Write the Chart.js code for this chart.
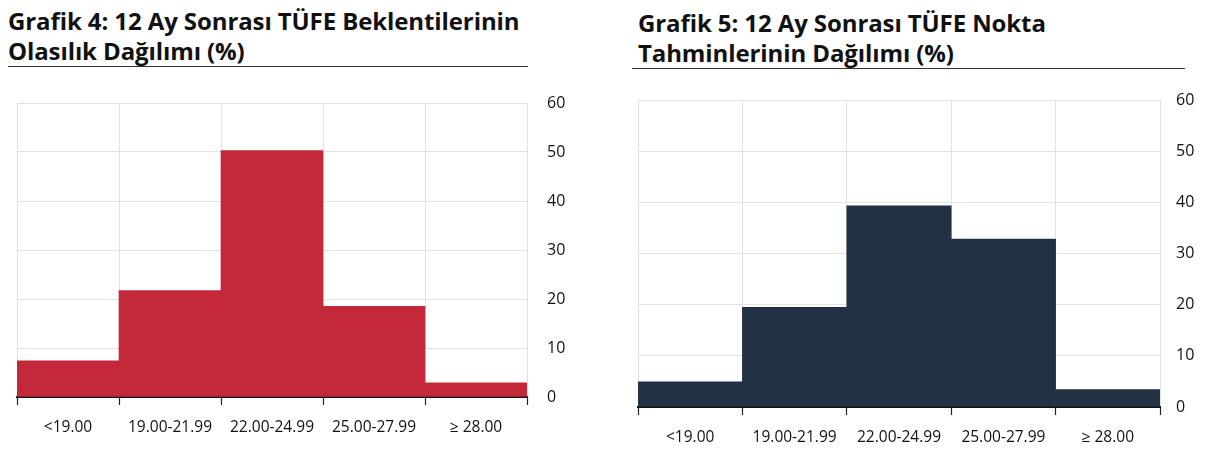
<!DOCTYPE html>
<html>
<head>
<meta charset="utf-8">
<script src="https://cdn.jsdelivr.net/npm/chart.js@4"></script>
<style>
  html, body { margin: 0; padding: 0; background: #fff; }
  body { width: 1212px; height: 458px; position: relative; overflow: hidden; font-family: 'Open Sans', sans-serif; }
  .title { position: absolute; font-weight: 700; font-size: 24px; line-height: 30px; color: #111; border-bottom: 1.5px solid #333; box-sizing: border-box; letter-spacing: -0.1px; }
  .wrap { position: absolute; }
</style>
</head>
<body>
<div class="title" id="t1" style="left:8px; top:6px; width:520px;">Grafik 4: 12 Ay Sonrası TÜFE Beklentilerinin<br>Olasılık Dağılımı (%)</div>
<div class="title" id="t2" style="left:632px; top:8px; width:553px; padding-left:6px;">Grafik 5: 12 Ay Sonrası TÜFE Nokta<br>Tahminlerinin Dağılımı (%)</div>
<div class="wrap" style="left:0px; top:80px; width:600px; height:378px;"><canvas id="c1"></canvas></div>
<div class="wrap" style="left:610px; top:80px; width:602px; height:378px;"><canvas id="c2"></canvas></div>
<script>
const categories = ['<19.00', '19.00-21.99', '22.00-24.99', '25.00-27.99', '≥ 28.00'];
const probabilityValues = [7.4, 21.7, 50.3, 18.5, 2.9];
const pointEstimateValues = [4.9, 19.5, 39.3, 32.8, 3.4];
const yTicks = [0, 10, 20, 30, 40, 50, 60];

function makeChart(id, values, color, lay) {
  const ctx = document.getElementById(id);
  return new Chart(ctx, {
    type: 'bar',
    data: {
      labels: categories,
      datasets: [{
        data: values,
        backgroundColor: color,
        borderWidth: 0,
        categoryPercentage: 1.0,
        barPercentage: 1.0
      }]
    },
    options: {
      responsive: true,
      maintainAspectRatio: false,
      animation: false,
      layout: { padding: { left: lay.left, top: lay.top, right: 0, bottom: 0 } },
      plugins: { legend: { display: false }, tooltip: { enabled: false }, title: { display: false } },
      scales: {
        x: {
          type: 'category',
          offset: true,
          grid: { offset: true, color: '#e2e2e2', lineWidth: 1, tickColor: '#222', tickLength: 8, tickWidth: 1.2 },
          border: { color: '#111', width: 2 },
          ticks: { color: '#111', font: { family: 'Open Sans', size: 15.5 }, padding: 13, maxRotation: 0, autoSkip: false },
          afterFit: s => { s.height = lay.xh; s.paddingLeft = 0; s.paddingRight = 0; }
        },
        y: {
          position: 'right',
          min: yTicks[0],
          max: yTicks[yTicks.length - 1],
          afterBuildTicks: s => { s.ticks = yTicks.map(v => ({ value: v })); },
          grid: { color: '#e2e2e2', lineWidth: 1, drawTicks: false },
          border: { display: false },
          ticks: { color: '#111', font: { family: 'Open Sans', size: 16 }, padding: lay.ypad },
          afterFit: s => { s.width = lay.yw; s.paddingTop = 0; s.paddingBottom = 0; }
        }
      }
    }
  });
}

makeChart('c1', probabilityValues, '#C3293A', { left: 17, top: 23, xh: 61, yw: 73, ypad: 20 });
makeChart('c2', pointEstimateValues, '#233145', { left: 28, top: 20, xh: 51, yw: 52, ypad: 16 });
</script>
</body>
</html>
